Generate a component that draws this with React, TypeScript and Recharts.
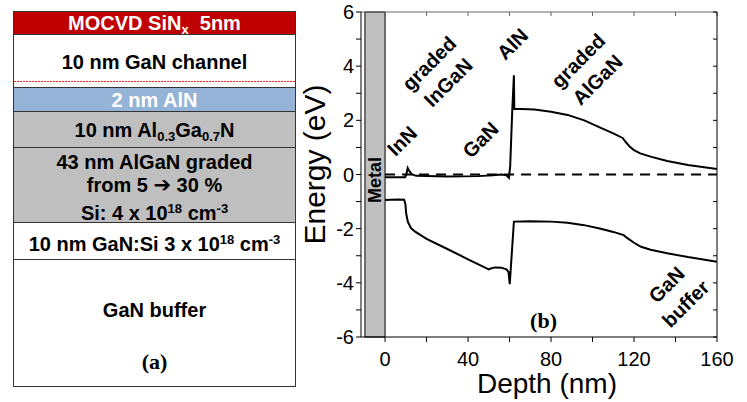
import React from "react";
import {
  ComposedChart,
  Line,
  XAxis,
  YAxis,
  ReferenceArea,
  ReferenceLine,
  ReferenceDot,
  Label,
} from "recharts";

// conduction band (eV) vs depth (nm)
const cbDepth = [0, 9.7, 10.3, 10.9, 11.7, 13, 15, 30, 45, 52, 56, 58.5, 59.7, 60.3, 61.3, 62.1, 62.3, 66, 72, 80, 88, 96, 104, 110, 114.5, 116, 118, 120, 123, 128, 136, 146, 160];
const cbEnergy = [-0.1, -0.1, 0.02, 0.24, 0.12, 0.0, -0.05, -0.07, -0.06, -0.03, 0.0, -0.03, -0.12, 0.3, 2.35, 3.66, 2.42, 2.42, 2.4, 2.32, 2.2, 2.0, 1.72, 1.52, 1.35, 1.2, 1.02, 0.9, 0.78, 0.66, 0.5, 0.35, 0.2];

// valence band
const vbDepth = [0, 6, 9.2, 9.8, 10.2, 11, 12.5, 14.5, 20, 30, 40, 48, 50, 51, 53, 56, 58.5, 59.5, 60.1, 62.1, 70, 80, 88, 96, 104, 110, 115, 117, 120, 123.4, 128, 136, 146, 160];
const vbEnergy = [-0.94, -0.92, -0.93, -1.1, -1.45, -1.75, -1.98, -2.11, -2.38, -2.75, -3.13, -3.43, -3.5, -3.47, -3.43, -3.44, -3.5, -3.6, -4.05, -1.74, -1.73, -1.74, -1.78, -1.87, -2.0, -2.12, -2.24, -2.36, -2.52, -2.67, -2.78, -2.91, -3.05, -3.22];

const xTicks = [0, 20, 40, 60, 80, 100, 120, 140, 160];
const yTicks = [-6, -5, -4, -3, -2, -1, 0, 1, 2, 3, 4, 5, 6];

// region labels on the band diagram
const noteLines = [["InN"], ["graded", "InGaN"], ["GaN"], ["AlN"], ["graded", "AlGaN"], ["GaN", "buffer"]];
const noteDepth = [8.2, 25.8, 46, 61.4, 97.7, 140.3];
const noteEnergy = [1.24, 3.75, 1.28, 4.82, 3.85, -4.42];

const cbData = cbDepth.map((d, i) => ({ d, e: cbEnergy[i] }));
const vbData = vbDepth.map((d, i) => ({ d, e: vbEnergy[i] }));

const SANS = "'Liberation Sans', Arial, sans-serif";
const SERIF = "'Liberation Serif', 'Times New Roman', serif";

const RED = "#c00000";
const BLUE = "#95b3d7";
const GRAY = "#bfbfbf";

const Note = (lines: string[]) => (props: any) => {
  const { cx, cy } = props;
  const lh = 27;
  return (
    <text
      transform={`rotate(-45 ${cx} ${cy})`}
      x={cx}
      y={cy}
      textAnchor="middle"
      dominantBaseline="central"
      fontFamily={SANS}
      fontWeight="bold"
      fontSize={20}
      fill="#000"
    >
      {lines.map((l, i) => (
        <tspan key={i} x={cx} dy={i === 0 ? (-(lines.length - 1) * lh) / 2 : lh}>
          {l}
        </tspan>
      ))}
    </text>
  );
};

const box = (top: number, bottom: number, fill: string) => ({
  position: "absolute" as const,
  left: 13,
  top,
  width: 283,
  height: bottom - top,
  background: fill,
  border: "1px solid #333",
  boxSizing: "border-box" as const,
});

const line = (cy: number, color = "#000") => ({
  position: "absolute" as const,
  left: 13,
  width: 283,
  top: cy - 12,
  height: 24,
  lineHeight: "24px",
  textAlign: "center" as const,
  color,
  fontFamily: SANS,
  fontWeight: "bold" as const,
  fontSize: 20,
  whiteSpace: "nowrap" as const,
});

const sub = { fontSize: 13, verticalAlign: "-4px" };
const sup = { fontSize: 13, verticalAlign: "7px" };

function LayerStack() {
  return (
    <div>
      <div style={box(11, 35, RED)} />
      <div style={box(34, 88, "#fff")} />
      <div
        style={{
          position: "absolute",
          left: 14,
          width: 281,
          top: 81,
          height: 1,
          background: "repeating-linear-gradient(90deg, #ff2020 0 2px, transparent 2px 3px)",
        }}
      />
      <div style={box(87, 112, BLUE)} />
      <div style={box(111, 148, GRAY)} />
      <div style={box(147, 223, GRAY)} />
      <div style={box(222, 260, "#fff")} />
      <div style={box(259, 387, "#fff")} />

      <div style={line(22.5, "#fff")}>
        MOCVD SiN<span style={sub}>x</span>&nbsp; 5nm
      </div>
      <div style={line(62)}>10 nm GaN channel</div>
      <div style={line(99.5, "#fff")}>2 nm AlN</div>
      <div style={line(130)}>
        10 nm Al<span style={sub}>0.3</span>Ga<span style={sub}>0.7</span>N
      </div>
      <div style={line(162)}>43 nm AlGaN graded</div>
      <div style={line(185)}>
        from 5 <span style={{ fontFamily: "'DejaVu Sans', sans-serif", fontSize: 21 }}>➔</span> 30 %
      </div>
      <div style={line(209)}>
        Si: 4 x 10<span style={sup}>18</span> cm<span style={sup}>-3</span>
      </div>
      <div style={line(240)}>
        10 nm GaN:Si 3 x 10<span style={sup}>18</span> cm<span style={sup}>-3</span>
      </div>
      <div style={line(310)}>GaN buffer</div>
      <div style={{ ...line(362), fontFamily: SERIF, fontSize: 22 }}>(a)</div>
    </div>
  );
}

export default function App() {
  const tickStyle = { fontSize: 20, fill: "#000", fontFamily: SANS };
  return (
    <div
      style={{
        position: "absolute",
        left: 0,
        top: 0,
        width: 747,
        height: 402,
        background: "#fff",
      }}
    >
      <div style={{ position: "absolute", left: 0, top: 0 }}>
        <ComposedChart
          width={747}
          height={402}
          margin={{ top: 12, right: 30, bottom: 35, left: 301 }}
        >
          <XAxis
            xAxisId="b"
            dataKey="d"
            type="number"
            domain={[-11.6, 160]}
            ticks={xTicks}
            interval={0}
            allowDataOverflow
            tickFormatter={(v: number) => (v % 40 === 0 ? String(v) : "")}
            tick={tickStyle}
            tickSize={5}
            tickMargin={10}
            height={30}
            axisLine={{ stroke: "#000" }}
            tickLine={{ stroke: "#000" }}
          >
            <Label
              content={(p: any) => {
                const vb = p.viewBox;
                return (
                  <text
                    x={vb.x + vb.width / 2 + 8}
                    y={vb.y + 56}
                    textAnchor="middle"
                    fontFamily={SANS}
                    fontSize={28}
                    fill="#000"
                  >
                    Depth (nm)
                  </text>
                );
              }}
            />
          </XAxis>
          <XAxis
            xAxisId="t"
            dataKey="d"
            type="number"
            orientation="top"
            mirror
            domain={[-11.6, 160]}
            ticks={xTicks}
            interval={0}
            allowDataOverflow
            tickFormatter={() => ""}
            tickSize={4}
            axisLine={{ stroke: "#666" }}
            tickLine={{ stroke: "#666" }}
          />
          <YAxis
            yAxisId="l"
            type="number"
            domain={[-6, 6]}
            ticks={yTicks}
            interval={0}
            allowDataOverflow
            tickFormatter={(v: number) => (v % 2 === 0 ? String(v) : "")}
            tick={tickStyle}
            tickSize={5}
            tickMargin={2}
            width={60}
            axisLine={{ stroke: "#000" }}
            tickLine={{ stroke: "#000" }}
          >
            <Label
              content={(p: any) => {
                const vb = p.viewBox;
                const x = vb.x + 24;
                const y = vb.y + vb.height / 2 - 10;
                return (
                  <text
                    x={x}
                    y={y}
                    transform={`rotate(-90 ${x} ${y})`}
                    textAnchor="middle"
                    fontFamily={SANS}
                    fontSize={30}
                    fill="#000"
                  >
                    Energy (eV)
                  </text>
                );
              }}
            />
          </YAxis>
          <YAxis
            yAxisId="r"
            type="number"
            orientation="right"
            mirror
            domain={[-6, 6]}
            ticks={yTicks}
            interval={0}
            allowDataOverflow
            tickFormatter={() => ""}
            tickSize={4}
            axisLine={{ stroke: "#000" }}
            tickLine={{ stroke: "#000" }}
          />

          <ReferenceArea
            xAxisId="b"
            yAxisId="l"
            x1={-9.7}
            x2={0}
            y1={-6}
            y2={6}
            fill="#c0c0c0"
            fillOpacity={1}
            stroke="#000"
            strokeWidth={1}
          />
          <ReferenceDot
            xAxisId="b"
            yAxisId="l"
            x={-4.85}
            y={-0.2}
            r={0}
            shape={(p: any) => (
              <text
                x={p.cx}
                y={p.cy}
                transform={`rotate(-90 ${p.cx} ${p.cy})`}
                textAnchor="middle"
                dominantBaseline="central"
                fontFamily={SANS}
                fontWeight="bold"
                fontSize={18}
                fill="#000"
              >
                Metal
              </text>
            )}
          />
          <ReferenceLine
            xAxisId="b"
            yAxisId="l"
            segment={[
              { x: 0, y: 0 },
              { x: 160, y: 0 },
            ]}
            stroke="#000"
            strokeWidth={2}
            strokeDasharray="10 7"
          />

          <Line
            xAxisId="b"
            yAxisId="l"
            data={cbData}
            dataKey="e"
            type="linear"
            stroke="#000"
            strokeWidth={2}
            dot={false}
            isAnimationActive={false}
          />
          <Line
            xAxisId="b"
            yAxisId="l"
            data={vbData}
            dataKey="e"
            type="linear"
            stroke="#000"
            strokeWidth={2}
            dot={false}
            isAnimationActive={false}
          />

          {noteLines.map((ls, i) => (
            <ReferenceDot
              key={i}
              xAxisId="b"
              yAxisId="l"
              x={noteDepth[i]}
              y={noteEnergy[i]}
              r={0}
              shape={Note(ls)}
            />
          ))}
          <ReferenceDot
            xAxisId="b"
            yAxisId="l"
            x={76.4}
            y={-5.39}
            r={0}
            shape={(p: any) => (
              <text
                x={p.cx}
                y={p.cy}
                textAnchor="middle"
                dominantBaseline="central"
                fontFamily={SERIF}
                fontWeight="bold"
                fontSize={22}
                fill="#000"
              >
                (b)
              </text>
            )}
          />
        </ComposedChart>
      </div>
      <LayerStack />
    </div>
  );
}
